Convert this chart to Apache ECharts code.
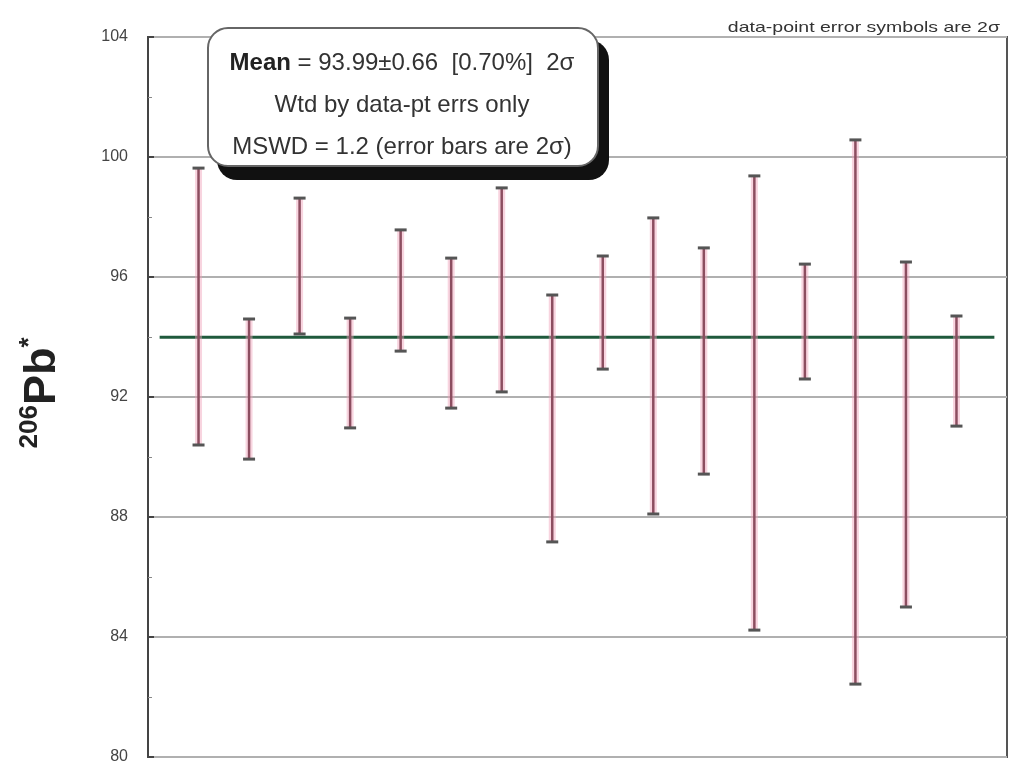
<!DOCTYPE html>
<html>
<head>
<meta charset="utf-8">
<script src="https://cdn.jsdelivr.net/npm/echarts@6/dist/echarts.min.js"></script>
<style>html,body{margin:0;padding:0;background:#fff}#c{width:1013px;height:772px}</style>
</head>
<body>
<div id="c"></div>
<script>
// Data
var spots = [1,2,3,4,5,6,7,8,9,10,11,12,13,14,15,16];
var upper = [99.63,94.6,98.63,94.63,97.57,96.63,98.97,95.4,96.7,97.97,96.97,99.37,96.43,100.57,96.5,94.7];
var lower = [90.4,89.93,94.1,90.97,93.53,91.63,92.17,87.17,92.93,88.1,89.43,84.23,92.6,82.43,85.0,91.03];
var meanValue = 93.99;
var meanSpan = [0.23, 16.75];
var yTicks = [80,84,88,92,96,100,104];
var boxLines = ['Mean = 93.99±0.66  [0.70%]  2σ', 'Wtd by data-pt errs only', 'MSWD = 1.2 (error bars are 2σ)'];
var cornerNote = 'data-point error symbols are 2σ';

var errData = spots.map(function(s,i){ return [s, lower[i], upper[i]]; });
var FF = 'Liberation Sans, Arial, sans-serif';

var chart = echarts.init(document.getElementById('c'));
chart.setOption({
  animation: false,
  backgroundColor: '#fff',
  grid: {left:148, top:37, right:6, bottom:15, show:true, borderColor:'#555', borderWidth:2, backgroundColor:'transparent'},
  xAxis: {type:'value', min:0, max:17, show:false},
  yAxis: {
    type:'value', min:80, max:104, interval:4,
    axisLine:{show:true, lineStyle:{color:'#444', width:2}},
    axisTick:{show:true, inside:true, length:6, lineStyle:{color:'#444', width:2}},
    minorTick:{show:true, splitNumber:2, length:4, lineStyle:{color:'#888', width:1}},
    splitLine:{show:true, lineStyle:{color:'#b0b0b0', width:2}},
    axisLabel:{color:'#444', fontSize:16, fontFamily:FF, margin:20,
      formatter:function(v){ return yTicks.indexOf(v)>=0 ? String(v) : ''; }}
  },
  series: [
    {
      type:'line', data:[[meanSpan[0], meanValue],[meanSpan[1], meanValue]],
      symbol:'none', lineStyle:{color:'#1f5a3c', width:3}, z:3
    },
    {
      type:'custom', data:errData, z:4,
      renderItem:function(params, api){
        var x = api.value(0);
        var lo = api.coord([x, api.value(1)]);
        var hi = api.coord([x, api.value(2)]);
        var cap = 6;
        return {type:'group', children:[
          {type:'line', shape:{x1:lo[0], y1:lo[1], x2:hi[0], y2:hi[1]}, style:{stroke:'rgba(240,160,185,0.45)', lineWidth:7}},
          {type:'line', shape:{x1:lo[0], y1:lo[1], x2:hi[0], y2:hi[1]}, style:{stroke:'#8c4e60', lineWidth:2.5}},
          {type:'line', shape:{x1:hi[0]-cap, y1:hi[1], x2:hi[0]+cap, y2:hi[1]}, style:{stroke:'#555', lineWidth:3}},
          {type:'line', shape:{x1:lo[0]-cap, y1:lo[1], x2:lo[0]+cap, y2:lo[1]}, style:{stroke:'#555', lineWidth:3}}
        ]};
      }
    }
  ],
  graphic: [
    {type:'rect', left:217, top:40, z:10, shape:{width:392, height:140, r:20}, style:{fill:'#111'}},
    {type:'rect', left:207, top:27, z:11, shape:{width:390, height:138, r:20}, style:{fill:'#fff', stroke:'#666', lineWidth:2}},
    {type:'text', z:12, x:402, y:63, style:{
      text:'{b|Mean} = 93.99±0.66  [0.70%]  2σ', align:'center', verticalAlign:'middle',
      fontSize:24, fontFamily:FF, fill:'#333',
      rich:{b:{fontWeight:'bold', fontSize:24, fontFamily:FF, fill:'#222'}}
    }},
    {type:'text', z:12, x:402, y:105, style:{text:boxLines[1], align:'center', verticalAlign:'middle', fontSize:24, fontFamily:FF, fill:'#333'}},
    {type:'text', z:12, x:402, y:147, style:{text:boxLines[2], align:'center', verticalAlign:'middle', fontSize:24, fontFamily:FF, fill:'#333'}},
    {type:'text', z:12, x:1000, y:28, scaleX:1.3, style:{text:cornerNote, x:0, y:0, align:'right', verticalAlign:'middle', fontSize:15, fontFamily:FF, fill:'#333'}},
    {type:'text', z:12, x:41, y:393, rotation:Math.PI/2, style:{
      text:'{sup|206}{big|Pb}{sup|*}', x:0, y:0, align:'center', verticalAlign:'middle',
      rich:{
        big:{fontSize:45, fontWeight:'bold', fill:'#222', fontFamily:FF, lineHeight:48, verticalAlign:'bottom'},
        sup:{fontSize:26, fontWeight:'bold', fill:'#222', fontFamily:FF, lineHeight:48, verticalAlign:'top'}
      }
    }}
  ]
});
</script>
</body>
</html>
